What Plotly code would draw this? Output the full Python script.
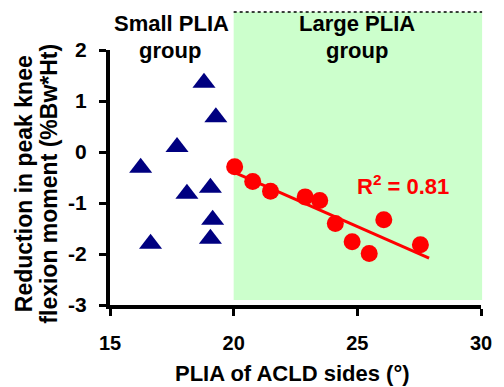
import numpy as np
import plotly.graph_objects as go

# Small PLIA group (triangles)
small_x = [16.24, 16.64, 17.71, 18.11, 18.80, 19.28, 19.06, 19.15, 19.06]
small_y = [-0.31, -1.80, 0.10, -0.82, 1.36, 0.68, -0.70, -1.33, -1.70]

# Large PLIA group (circles)
large_x = [20.04, 20.77, 21.49, 22.89, 23.48, 24.11, 24.79, 25.48, 26.07, 27.55]
large_y = [-0.29, -0.58, -0.77, -0.88, -0.95, -1.40, -1.76, -1.99, -1.33, -1.82]

fit_x_range = [20.0, 27.9]
x_ticks = [15, 20, 25, 30]
y_ticks = [-3, -2, -1, 0, 1, 2]
r2_text = "R<sup>2</sup> = 0.81"

FONT = "Liberation Sans, Arial, sans-serif"

slope, intercept = np.polyfit(large_x, large_y, 1)
fx = np.array(fit_x_range)
fy = slope * fx + intercept

fig = go.Figure()

fig.add_trace(go.Scatter(
    x=small_x, y=small_y, mode="markers",
    marker=dict(symbol="triangle-up", size=20, color="#000080"),
    showlegend=False, cliponaxis=False))

fig.add_trace(go.Scatter(
    x=fx, y=fy, mode="lines",
    line=dict(color="#FF0000", width=3),
    showlegend=False))

fig.add_trace(go.Scatter(
    x=large_x, y=large_y, mode="markers",
    marker=dict(symbol="circle", size=17, color="#FF0000"),
    showlegend=False, cliponaxis=False))

# green shaded region
fig.add_shape(type="rect", xref="paper", yref="paper",
              x0=1/3, x1=1.003, y0=0.02, y1=1.149,
              fillcolor="#CCFFCC", line=dict(width=0), layer="below")
fig.add_shape(type="line", xref="paper", yref="paper",
              x0=1/3, x1=1.003, y0=1.149, y1=1.149,
              line=dict(color="black", width=1.5, dash="dot"), layer="below")

bold = lambda s: "<b>" + s + "</b>"

ann = [
    dict(text=bold("Small PLIA"), x=0.165, y=1.105),
    dict(text=bold("group"), x=0.163, y=1.0),
    dict(text=bold("Large PLIA"), x=0.667, y=1.105),
    dict(text=bold("group"), x=0.667, y=1.0),
]
for a in ann:
    fig.add_annotation(xref="paper", yref="paper", showarrow=False,
                       xanchor="center", yanchor="middle",
                       font=dict(family=FONT, size=22, color="black"), **a)

fig.add_annotation(xref="paper", yref="paper", showarrow=False,
                   x=0.79, y=0.47, xanchor="center", yanchor="middle",
                   text=bold(r2_text),
                   font=dict(family=FONT, size=22, color="#FF0000"))

# y axis title lines
fig.add_annotation(xref="paper", yref="paper", showarrow=False,
                   x=-0.231, y=0.475, xanchor="center", yanchor="middle",
                   textangle=-90, text=bold("Reduction in peak knee"),
                   font=dict(family=FONT, size=23, color="black"))
fig.add_annotation(xref="paper", yref="paper", showarrow=False,
                   x=-0.165, y=0.475, xanchor="center", yanchor="middle",
                   textangle=-90, text=bold("flexion moment (%Bw*Ht)"),
                   font=dict(family=FONT, size=23, color="black"))

# x axis title
fig.add_annotation(xref="paper", yref="paper", showarrow=False,
                   x=0.491, y=-0.267, xanchor="center", yanchor="middle",
                   text=bold("PLIA of ACLD sides (°)"),
                   font=dict(family=FONT, size=22, color="black"))

axis_common = dict(showline=True, linewidth=4, linecolor="black",
                   ticks="outside", ticklen=7, tickwidth=3, tickcolor="black",
                   showgrid=False, zeroline=False)

fig.update_xaxes(range=[15, 30], tickvals=x_ticks,
                 ticktext=[bold(str(v)) for v in x_ticks],
                 tickfont=dict(family=FONT, size=20, color="black"),
                 ticklabelstandoff=10, **axis_common)
fig.update_yaxes(range=[-3, 2], tickvals=y_ticks,
                 ticktext=[bold(str(v)) for v in y_ticks],
                 tickfont=dict(family=FONT, size=21, color="black"),
                 ticklabelstandoff=8, **axis_common)

fig.update_layout(width=504, height=387,
                  margin=dict(l=110, r=12, t=50, b=82),
                  paper_bgcolor="white", plot_bgcolor="rgba(0,0,0,0)",
                  font=dict(family=FONT))

fig.write_html(
    "out.html", config={"displayModeBar": False},
    post_script=("document.documentElement.style.overflow='hidden';"
                 "document.body.style.margin='0';"
                 "document.body.style.overflow='hidden';"))
